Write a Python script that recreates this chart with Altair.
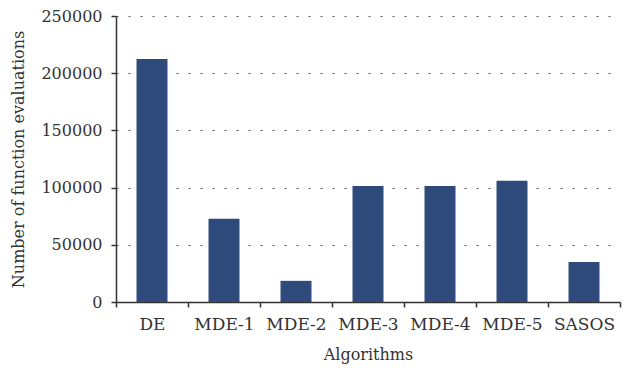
import altair as alt
import pandas as pd

algorithms = ["DE", "MDE-1", "MDE-2", "MDE-3", "MDE-4", "MDE-5", "SASOS"]
evaluations = [212500, 72800, 18500, 101500, 101500, 106000, 35000]

df = pd.DataFrame({"Algorithm": algorithms, "Evaluations": evaluations})

FONT = "DejaVu Serif"

chart = alt.Chart(df).mark_bar(size=31, color="#2E4A7A").encode(
    x=alt.X(
        "Algorithm:N",
        sort=algorithms,
        scale=alt.Scale(paddingInner=0, paddingOuter=0),
        axis=alt.Axis(
            title="Algorithms",
            labelAngle=0,
            tickBand="extent",
            tickSize=5,
            labelPadding=9,
            labelFontSize=17,
            titlePadding=14,
            grid=False,
        ),
    ),
    y=alt.Y(
        "Evaluations:Q",
        scale=alt.Scale(domain=[0, 250000]),
        axis=alt.Axis(
            title="Number of function evaluations",
            values=[0, 50000, 100000, 150000, 200000, 250000],
            format="d",
            tickSize=5,
            labelPadding=9,
            titlePadding=14,
            grid=True,
            gridDash=[2, 10],
            gridColor="#555555",
            gridWidth=1,
        ),
    ),
).properties(
    width=504,
    height=286,
    autosize=alt.AutoSizeParams(type="none"),
    padding={"left": 116, "top": 16, "right": 20, "bottom": 68},
).configure_view(
    stroke=None
).configure_axis(
    labelFont=FONT,
    titleFont=FONT,
    labelFontSize=16,
    titleFontSize=16,
    titleFontWeight="normal",
    labelColor="#333333",
    titleColor="#333333",
    domainColor="#333333",
    tickColor="#333333",
    domainWidth=1.5,
    tickWidth=1.5,
)

chart.save("out.html", embed_options={"renderer": "svg", "actions": False})
